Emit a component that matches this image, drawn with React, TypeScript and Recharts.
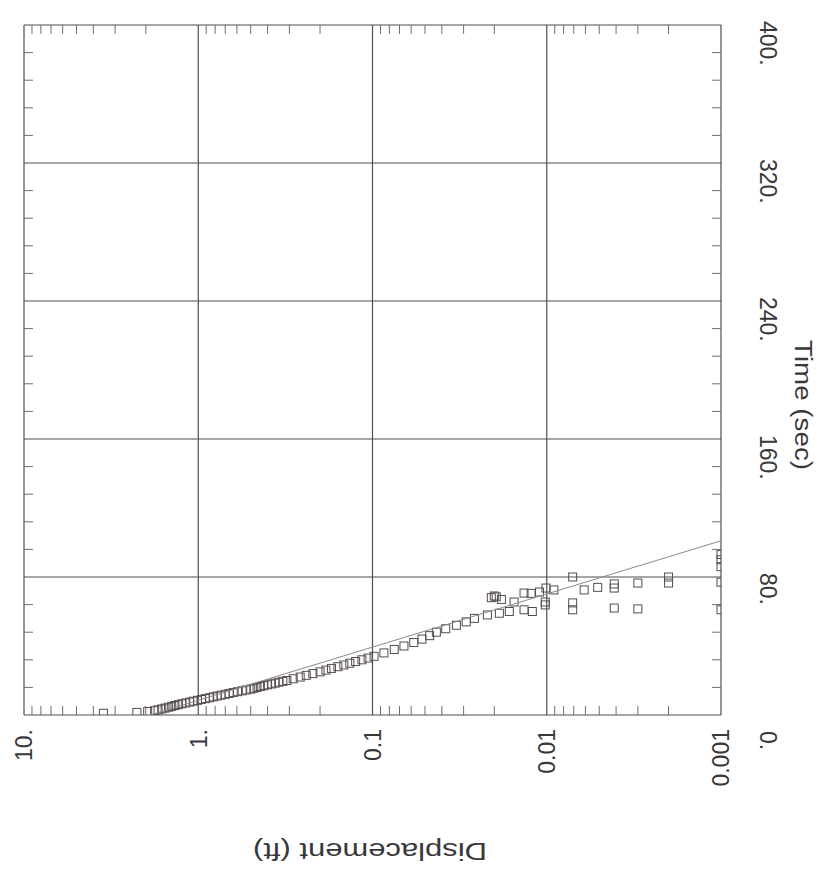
import React from 'react'
import { CartesianGrid, Scatter, ScatterChart, XAxis, YAxis } from 'recharts'

// observed slug-test response (time in sec, displacement in ft)
const obsTime = [
  1, 1.5, 2, 2.5, 3, 3.5, 4, 4.5, 5, 5.5, 6, 6.5, 7, 7.5, 8, 8.5, 9, 9.5, 10,
  10.5, 11, 11.5, 12, 12.5, 13, 13.5, 14, 14.5, 15, 15.5, 16, 16.5, 17, 17.5, 18, 18.5, 19, 19.5, 20,
  21, 22, 23, 24, 25, 26, 27, 28, 29, 30,
  31, 32, 33, 34, 36, 38, 40, 42, 44, 46, 48, 50, 52, 54, 56,
  58, 59, 60, 68, 68.5, 67, 69, 65.5, 70.7, 70.5, 71.3, 73.6, 72.5, 61, 60, 65.5, 63.8,
  80, 65, 61, 72.5, 74, 76, 73.6, 62, 76.5, 61.5, 80, 76.5, 77, 61, 93, 90, 86,
]
const obsDisp = [
  3.5, 2.25, 1.95, 1.78, 1.7, 1.62, 1.55, 1.48, 1.42, 1.36, 1.3, 1.24, 1.18, 1.12, 1.07, 1.01, 0.96, 0.91, 0.86,
  0.82, 0.78, 0.74, 0.7, 0.665, 0.63, 0.595, 0.56, 0.53, 0.5, 0.48, 0.46, 0.44, 0.42, 0.4, 0.38, 0.362, 0.345, 0.327, 0.31,
  0.285, 0.26, 0.24, 0.22, 0.2, 0.185, 0.172, 0.158, 0.146, 0.135,
  0.125, 0.115, 0.106, 0.098, 0.086, 0.075, 0.066, 0.058, 0.052, 0.047, 0.043, 0.038, 0.033, 0.029, 0.026,
  0.0219, 0.0187, 0.0164, 0.0208, 0.0195, 0.0182, 0.02, 0.0154, 0.0135, 0.0123, 0.011, 0.0101, 0.0091, 0.0135, 0.0121, 0.0102, 0.0102,
  0.0071, 0.0071, 0.0071, 0.0061, 0.0051, 0.0041, 0.0041, 0.0041, 0.003, 0.003, 0.002, 0.002, 0.001, 0.001, 0.001, 0.001, 0.001,
]

// straight-line fit
const fitTime = [0, 101]
const fitDisp = [1.89, 0.001]

const dispTicks = [10, 1, 0.1, 0.01, 0.001]
const dispLabels = ['10.', '1.', '0.1', '0.01', '0.001']
const dispMinor = [
  9, 8, 7, 6, 5, 4, 3, 2,
  0.9, 0.8, 0.7, 0.6, 0.5, 0.4, 0.3, 0.2,
  0.09, 0.08, 0.07, 0.06, 0.05, 0.04, 0.03, 0.02,
  0.009, 0.008, 0.007, 0.006, 0.005, 0.004, 0.003, 0.002,
]
const timeTicks = [0, 80, 160, 240, 320, 400]
const timeLabels = ['0.', '80.', '160.', '240.', '320.', '400.']
const timeMinor = [16, 32, 48, 64, 96, 112, 128, 144, 176, 192, 208, 224, 256, 272, 288, 304, 336, 352, 368, 384]

const points = obsTime.map((t, i) => ({ t, d: obsDisp[i] }))
const fit = fitTime.map((t, i) => ({ t, d: fitDisp[i] }))

const FONT = '"Liberation Sans", Arial, sans-serif'
const INK = '#383838'

const DispTick = (props: any) => {
  const { x, y, payload } = props
  const label = dispLabels[dispTicks.indexOf(payload.value)]
  const ty = y + 14
  return (
    <text
      x={x}
      y={ty}
      dy="0.36em"
      transform={`rotate(-90 ${x} ${ty})`}
      textAnchor="end"
      fontSize={23}
      fontFamily={FONT}
      fill={INK}
    >
      {label}
    </text>
  )
}

const TimeTick = (props: any) => {
  const { x, y, payload } = props
  const label = timeLabels[timeTicks.indexOf(payload.value)]
  const ty = payload.value === 0 ? y + 16 : y - 4
  const tx = x + 47
  return (
    <text
      x={tx}
      y={ty}
      dy="0.36em"
      transform={`rotate(90 ${tx} ${ty})`}
      textAnchor="start"
      fontSize={23}
      fontFamily={FONT}
      fill={INK}
    >
      {label}
    </text>
  )
}

const Square = (props: any) => {
  const { cx, cy } = props
  if (cx == null || cy == null) return <g />
  return <rect x={cx - 4} y={cy - 4} width={8} height={8} fill="none" stroke="#554c4c" strokeWidth={1} />
}

const NoDot = () => <g />
const NoLabel = () => <g />

const minorLine = { stroke: '#6e6e6e', strokeWidth: 1 }

export default function App() {
  return (
    <div style={{ width: 816, height: 865, background: '#fff' }}>
      <ScatterChart width={816} height={865} margin={{ top: 17, left: 16, right: 23, bottom: 98 }}>
        <CartesianGrid stroke="#4f4f4f" strokeWidth={1.2} />
        <XAxis
          dataKey="d"
          type="number"
          scale="log"
          domain={[0.001, 10]}
          reversed
          allowDataOverflow
          ticks={dispTicks}
          interval={0}
          height={60}
          tickLine={false}
          axisLine={false}
          tickSize={0}
          tickMargin={0}
          tick={<DispTick />}
        />
        <YAxis
          dataKey="t"
          type="number"
          orientation="right"
          domain={[0, 400]}
          allowDataOverflow
          ticks={timeTicks}
          interval={0}
          width={80}
          tickLine={false}
          axisLine={false}
          tickSize={0}
          tickMargin={0}
          tick={<TimeTick />}
        />
        {/* inward minor ticks on all four edges */}
        <XAxis xAxisId="minTop" dataKey="d" orientation="top" mirror type="number" scale="log" domain={[0.001, 10]} reversed allowDataOverflow ticks={dispMinor} interval={0} axisLine={false} tickSize={9} tickLine={minorLine} tick={<NoLabel />} />
        <XAxis xAxisId="minBot" dataKey="d" orientation="bottom" mirror type="number" scale="log" domain={[0.001, 10]} reversed allowDataOverflow ticks={dispMinor} interval={0} axisLine={false} tickSize={9} tickLine={minorLine} tick={<NoLabel />} />
        <YAxis yAxisId="minLeft" dataKey="t" orientation="left" mirror type="number" domain={[0, 400]} allowDataOverflow ticks={timeMinor} interval={0} axisLine={false} tickSize={9} tickLine={minorLine} tick={<NoLabel />} />
        <YAxis yAxisId="minRight" dataKey="t" orientation="right" mirror type="number" domain={[0, 400]} allowDataOverflow ticks={timeMinor} interval={0} axisLine={false} tickSize={9} tickLine={minorLine} tick={<NoLabel />} />
        <Scatter data={points} shape={<Square />} isAnimationActive={false} />
        <Scatter data={fit} line={{ stroke: '#8a8a8a', strokeWidth: 1 }} shape={<NoDot />} isAnimationActive={false} />
        <text
          x={362}
          y={843}
          dy="0.36em"
          transform="rotate(180 362 843)"
          textAnchor="middle"
          fontSize={23}
          fontFamily={FONT}
          fill={INK}
          textLength={234}
          lengthAdjust="spacingAndGlyphs"
        >
          Displacement (ft)
        </text>
        <text
          x={795}
          y={397}
          dy="0.36em"
          transform="rotate(90 795 397)"
          textAnchor="middle"
          fontSize={23}
          fontFamily={FONT}
          fill={INK}
          textLength={130}
          lengthAdjust="spacingAndGlyphs"
        >
          Time (sec)
        </text>
      </ScatterChart>
    </div>
  )
}
